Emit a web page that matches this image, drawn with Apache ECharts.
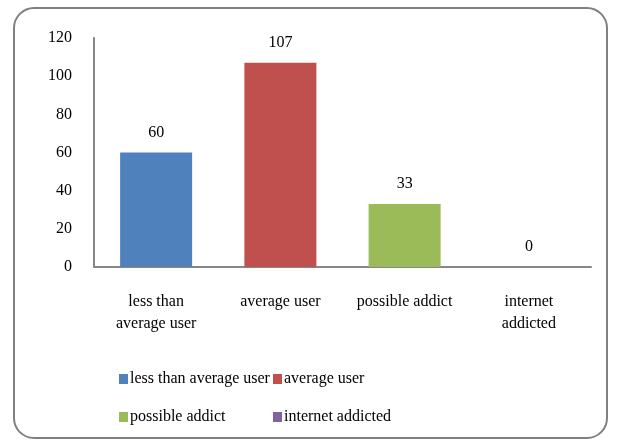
<!DOCTYPE html>
<html>
<head>
<meta charset="utf-8">
<script src="https://cdn.jsdelivr.net/npm/echarts@6/dist/echarts.min.js"></script>
<style>
  html, body { margin: 0; padding: 0; background: #fff; }
  #chart { width: 621px; height: 441px; }
</style>
</head>
<body>
<div id="chart"></div>
<script>
// 类别与数值
const categories = ['less than average user', 'average user', 'possible addict', 'internet addicted'];
const axisLabels = ['less than\naverage user', 'average user', 'possible addict', 'internet\naddicted'];
const values = [60, 107, 33, 0];
const colors = ['#4F81BD', '#C0504D', '#9BBB59', '#8064A2'];
const yTicks = { min: 0, max: 120, interval: 20 };

const FONT = '"Liberation Serif", "Times New Roman", serif';

// 每个类别一个系列，只在自己的位置有值（堆叠使柱子居中）
const series = categories.map((name, i) => ({
  name: name,
  type: 'bar',
  stack: 'one',
  barWidth: 72,
  data: values.map((v, j) => (j === i ? v : '-')),
  itemStyle: { color: colors[i] },
  label: {
    show: true,
    position: 'top',
    distance: 12,
    color: '#000',
    fontFamily: FONT,
    fontSize: 16
  }
}));

const chart = echarts.init(document.getElementById('chart'));

const legendCommon = {
  orient: 'vertical',
  top: 366,
  itemWidth: 9,
  itemHeight: 10,
  itemGap: 22,
  icon: 'rect',
  textStyle: { fontFamily: FONT, fontSize: 16, color: '#000', padding: [0, 0, 0, -3] }
};

chart.setOption({
  animation: false,
  graphic: [{
    type: 'rect',
    shape: { x: 14, y: 8, width: 593, height: 430, r: 20 },
    style: { fill: 'none', stroke: '#808080', lineWidth: 2 },
    silent: true
  }],
  legend: [
    Object.assign({}, legendCommon, { left: 114, data: [categories[0], categories[2]] }),
    Object.assign({}, legendCommon, { left: 268, data: [categories[1], categories[3]] })
  ],
  grid: { left: 94, right: 30, top: 38, bottom: 174 },
  xAxis: {
    type: 'category',
    data: axisLabels,
    axisLine: { lineStyle: { color: '#868686', width: 2 } },
    axisTick: { show: false },
    axisLabel: {
      color: '#000',
      fontFamily: FONT,
      fontSize: 16,
      margin: 24,
      lineHeight: 22,
      interval: 0
    }
  },
  yAxis: {
    type: 'value',
    min: yTicks.min,
    max: yTicks.max,
    interval: yTicks.interval,
    axisLine: { show: true, lineStyle: { color: '#868686', width: 2 } },
    axisTick: { show: false },
    splitLine: { show: false },
    axisLabel: {
      color: '#000',
      fontFamily: FONT,
      fontSize: 16,
      margin: 22
    }
  },
  series: series
});
</script>
</body>
</html>
